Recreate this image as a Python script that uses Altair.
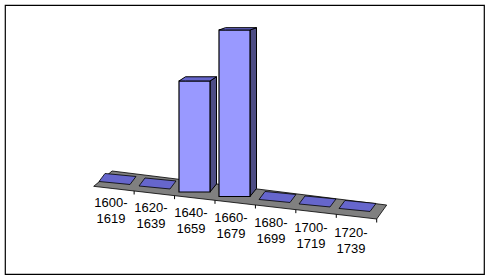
import altair as alt
import pandas as pd

# ---- data ----
categories = ["1600-1619", "1620-1639", "1640-1659", "1660-1679",
              "1680-1699", "1700-1719", "1720-1739"]
values = [0, 0, 2, 3, 0, 0, 0]

# ---- layout / pseudo-3D projection constants (in scale units) ----
W, H = 479, 269            # plot area = framed chart area
SX, SY = 40.0, 55.5        # px per category step / px per value unit
X0, YMAX = -2.7375, 3.207
XDOM = [X0, X0 + W / SX]
YDOM = [YMAX - H / SY, YMAX]

HALF = 0.3875              # half bar width (category units)
SLOPE = 0.081              # floor drop per category (value units)
DX = 6.5 / SX              # depth shift in x
def DY(v):                 # depth shift in y, smaller higher up (perspective)
    return (8.0 - 1.9 * v) / SY

FLOOR = [(-0.52, -0.06), (6.555, -0.649), (6.805, -0.397), (-0.06, 0.216)]


def poly_rows(verts, key):
    xs = sorted(set(round(v[0], 6) for v in verts))
    rows = []
    n = len(verts)
    for x in xs:
        ys = []
        for k in range(n):
            (x1, y1), (x2, y2) = verts[k], verts[(k + 1) % n]
            lo, hi = min(x1, x2), max(x1, x2)
            if hi - lo < 1e-9:
                if abs(x - x1) < 1e-6:
                    ys += [y1, y2]
            elif lo - 1e-6 <= x <= hi + 1e-6:
                t = (x - x1) / (x2 - x1)
                ys.append(y1 + t * (y2 - y1))
        rows.append({"key": key, "x": x, "y": max(ys), "y2": min(ys)})
    return rows


floor_rows = poly_rows(FLOOR, "floor")

tick_rows = []
(fx0, fy0), (fx1, fy1) = FLOOR[0], FLOOR[1]
for k in range(1, 8):
    t = k / 7
    x = fx0 + t * (fx1 - fx0)
    y = fy0 + t * (fy1 - fy0)
    tick_rows.append({"x": x, "y": y, "y2": y - 3.5 / SY})

tile_rows, side_rows, top_rows, front_rows, label_rows = [], [], [], [], []
for i, (cat, v) in enumerate(zip(categories, values)):
    b = -SLOPE * i
    xl, xr = i - HALF, i + HALF
    if v == 0:
        s = 1.5 / SY
        dyt, dxt = 8.0 / SY, 6.0 / SX
        tile_rows += poly_rows([(xl, b + s), (xr, b - s),
                                (xr + dxt, b - s + dyt), (xl + dxt, b + s + dyt)], cat)
    else:
        t = b + v
        front_rows.append({"cat": cat, "x": xl, "x2": xr, "y": t, "y2": b})
        side_rows += poly_rows([(xr, b), (xr, t), (xr + DX, t + DY(v)),
                                (xr + DX, b + DY(0))], cat)
        top_rows += poly_rows([(xl, t), (xr, t), (xr + DX, t + DY(v)),
                               (xl + DX, t + DY(v))], cat)
    a, c = cat.split("-")
    label_rows.append({"label": a + "-\n" + c, "x": i - 0.09, "y": -0.43 - 0.09 * i})

xs = alt.Scale(domain=XDOM, nice=False, zero=False)
ys = alt.Scale(domain=YDOM, nice=False, zero=False)


def X(f="x"):
    return alt.X(f"{f}:Q", scale=xs, axis=None)


def Y(f="y"):
    return alt.Y(f"{f}:Q", scale=ys, axis=None)


floor = alt.Chart(pd.DataFrame(floor_rows)).mark_area(
    fill="#808080", stroke="#000000", strokeWidth=0.8
).encode(x=X(), y=Y(), y2="y2:Q", detail="key:N")

ticks = alt.Chart(pd.DataFrame(tick_rows)).mark_rule(
    color="#000000", strokeWidth=1
).encode(x=X(), y=Y(), y2="y2:Q")

tiles = alt.Chart(pd.DataFrame(tile_rows)).mark_area(
    fill="#6666CC", stroke="#000000", strokeWidth=0.8
).encode(x=X(), y=Y(), y2="y2:Q", detail="key:N")

sides = alt.Chart(pd.DataFrame(side_rows)).mark_area(
    fill="#4D4D85", stroke="#000000", strokeWidth=1
).encode(x=X(), y=Y(), y2="y2:Q", detail="key:N")

fronts = alt.Chart(pd.DataFrame(front_rows)).mark_rect(
    fill="#9999FF", stroke="#000000", strokeWidth=1.2
).encode(x=X(), x2="x2:Q", y=Y(), y2="y2:Q")

tops = alt.Chart(pd.DataFrame(top_rows)).mark_area(
    fill="#6666CC", stroke="#000000", strokeWidth=1
).encode(x=X(), y=Y(), y2="y2:Q", detail="key:N")

labels = alt.Chart(pd.DataFrame(label_rows)).mark_text(
    font="Liberation Sans", fontSize=13, color="#000000", align="center",
    baseline="alphabetic", lineBreak="\n", lineHeight=16.5
).encode(x=X(), y=Y(), text="label:N")

chart = alt.layer(floor, ticks, tiles, sides, fronts, tops, labels).properties(
    width=W, height=H,
    autosize=alt.AutoSizeParams(type="none"),
    padding={"left": 5, "top": 5, "right": 7, "bottom": 6},
    background="#ffffff",
).configure_view(stroke="#000000", strokeWidth=1.2)

chart.save("out.html", embed_options={"renderer": "svg", "actions": False})
